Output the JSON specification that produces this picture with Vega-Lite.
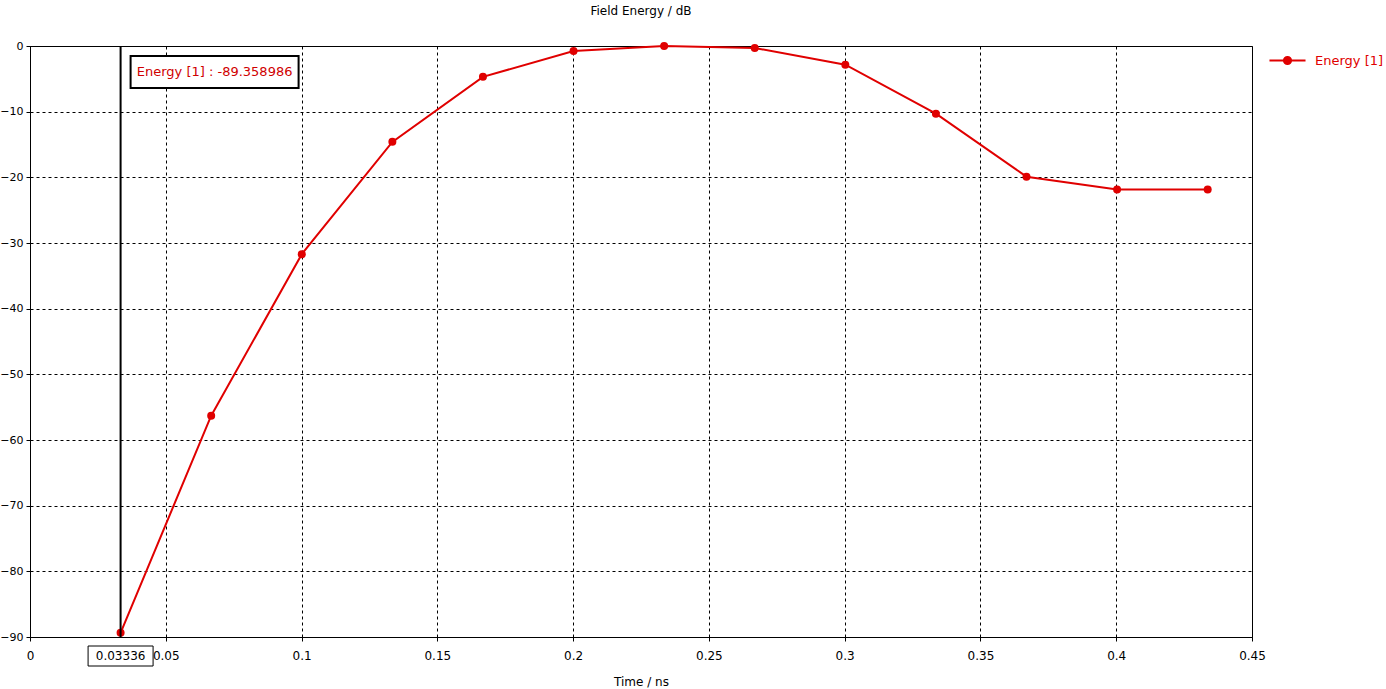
{
  "$schema": "https://vega.github.io/schema/vega-lite/v6.json",
  "width": 1222,
  "height": 591,
  "autosize": {"type": "none"},
  "padding": {"left": 30, "top": 46, "right": 134, "bottom": 52},
  "background": "white",
  "config": {
    "font": "DejaVu Sans",
    "view": {"stroke": "black", "strokeWidth": 1},
    "axis": {
      "labelFont": "DejaVu Sans", "labelFontSize": 12, "labelColor": "black",
      "titleFont": "DejaVu Sans", "titleFontSize": 12, "titleFontWeight": "normal", "titleColor": "black",
      "domainColor": "black", "tickColor": "black", "tickSize": 4,
      "gridColor": "black", "gridDash": [3, 3], "gridOpacity": 1, "gridWidth": 1
    }
  },
  "title": {"text": "Field Energy / dB", "fontSize": 12, "fontWeight": "normal", "font": "DejaVu Sans", "color": "black", "anchor": "middle", "offset": 22},
  "datasets": {
    "energy": [
      {"t": 0.03336, "e": -89.358986, "series": "Energy [1]"},
      {"t": 0.06672, "e": -56.3, "series": "Energy [1]"},
      {"t": 0.10008, "e": -31.7, "series": "Energy [1]"},
      {"t": 0.13344, "e": -14.6, "series": "Energy [1]"},
      {"t": 0.1668, "e": -4.7, "series": "Energy [1]"},
      {"t": 0.20016, "e": -0.75, "series": "Energy [1]"},
      {"t": 0.23352, "e": 0.0, "series": "Energy [1]"},
      {"t": 0.26688, "e": -0.3, "series": "Energy [1]"},
      {"t": 0.30024, "e": -2.85, "series": "Energy [1]"},
      {"t": 0.3336, "e": -10.3, "series": "Energy [1]"},
      {"t": 0.36696, "e": -19.9, "series": "Energy [1]"},
      {"t": 0.40032, "e": -21.85, "series": "Energy [1]"},
      {"t": 0.43368, "e": -21.85, "series": "Energy [1]"}
    ],
    "cursor": [
      {"t": 0.03336, "top": 0, "bottom": -90, "label": "Energy [1] : -89.358986", "xlabel": "0.03336"}
    ]
  },
  "encoding": {
    "x": {"field": "t", "type": "quantitative", "scale": {"domain": [0, 0.45], "nice": false, "zero": false},
      "axis": {"title": "Time / ns", "values": [0, 0.05, 0.1, 0.15, 0.2, 0.25, 0.3, 0.35, 0.4, 0.45], "format": "~g", "labelPadding": 9, "titlePadding": 15, "grid": true, "labelFlush": false}}
  },
  "layer": [
    {
      "data": {"name": "energy"},
      "mark": {"type": "line", "strokeWidth": 2, "point": {"filled": true, "size": 64, "opacity": 1}},
      "encoding": {
        "y": {"field": "e", "type": "quantitative", "scale": {"domain": [-90, 0], "nice": false, "zero": false},
          "axis": {"title": null, "values": [0, -10, -20, -30, -40, -50, -60, -70, -80, -90], "labelPadding": 3, "labelFontSize": 11, "grid": true, "labelFlush": false}},
        "color": {"field": "series", "type": "nominal", "scale": {"range": ["#e00000"]},
          "legend": {"title": null, "orient": "none", "legendX": 1238, "legendY": -5,
            "symbolType": "M-1,0L-0.2,0M0.2,0L1,0M-0.2,0A0.2,0.2 0 1,0 0.2,0A0.2,0.2 0 1,0 -0.2,0Z",
            "symbolSize": 1300, "symbolStrokeWidth": 2, "symbolFillColor": "#e00000", "symbolStrokeColor": "#e00000",
            "labelColor": "#e00000", "labelFontSize": 13, "labelFont": "DejaVu Sans", "labelOffset": 8}}
      }
    },
    {
      "data": {"name": "cursor"},
      "mark": {"type": "rule", "color": "black", "strokeWidth": 2},
      "encoding": {
        "y": {"field": "top", "type": "quantitative"},
        "y2": {"field": "bottom"}
      }
    },
    {
      "data": {"name": "cursor"},
      "mark": {"type": "rect", "fill": "white", "stroke": "black", "strokeWidth": 2, "width": 168, "height": 32, "xOffset": 94, "yOffset": 26},
      "encoding": {"y": {"field": "top", "type": "quantitative"}}
    },
    {
      "data": {"name": "cursor"},
      "mark": {"type": "text", "color": "#d00000", "fontSize": 13, "font": "DejaVu Sans", "align": "center", "baseline": "middle", "dx": 94, "dy": 26},
      "encoding": {"y": {"field": "top", "type": "quantitative"}, "text": {"field": "label"}}
    },
    {
      "data": {"name": "cursor"},
      "mark": {"type": "rect", "fill": "white", "stroke": "black", "strokeWidth": 1, "width": 65, "height": 20, "yOffset": 19},
      "encoding": {"y": {"field": "bottom", "type": "quantitative"}}
    },
    {
      "data": {"name": "cursor"},
      "mark": {"type": "text", "color": "black", "fontSize": 12, "font": "DejaVu Sans", "align": "center", "baseline": "middle", "dy": 19},
      "encoding": {"y": {"field": "bottom", "type": "quantitative"}, "text": {"field": "xlabel"}}
    }
  ]
}
